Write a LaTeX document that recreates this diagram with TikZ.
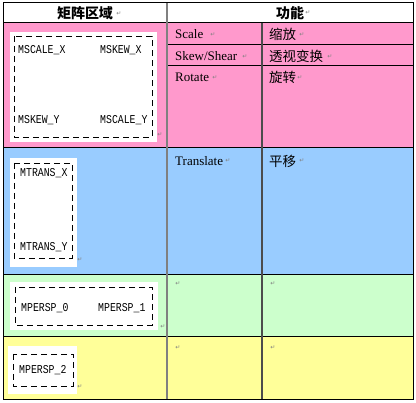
\documentclass[tikz,border=0pt]{standalone}
\usepackage{fontspec}
\setmainfont{Liberation Serif}
\newfontfamily\cjk{Noto Sans CJK SC}
\newfontfamily\regmono[FakeStretch=0.82]{Liberation Mono}
\newfontfamily\markfont{DejaVu Sans}
\usepackage{tikz}
\definecolor{rowpink}{HTML}{FF99CC}
\definecolor{rowblue}{HTML}{99CCFF}
\definecolor{rowgreen}{HTML}{CCFFCC}
\definecolor{rowyellow}{HTML}{FFFF99}
\tikzset{
  head/.style={inner sep=0, font=\cjk\bfseries\fontsize{14}{14}\selectfont},
  cell/.style={anchor=west, inner sep=0, font=\fontsize{13}{13}\selectfont},
  cjkcell/.style={anchor=west, inner sep=0, font=\cjk\fontsize{13.5}{13.5}\selectfont},
  reg/.style={anchor=west, inner sep=0, font=\regmono\fontsize{12}{12}\selectfont},
  pmark/.style={inner sep=0, text=gray, font=\markfont\fontsize{6}{6}\selectfont},
  boxline/.style={dash pattern=on 6pt off 4pt, line width=0.8pt},
  rowline/.style={line width=1pt},
  colline/.style={line width=2pt, draw=gray}
}

\begin{document}
\begin{tikzpicture}[x=1pt, y=-1pt]
  \useasboundingbox (0, 0) rectangle (416, 403);
  \fill[white] (0, 0) rectangle (416, 403);

  % row colours
  \fill[rowpink]   (3, 23)  rectangle (413, 148);
  \fill[rowblue]   (3, 148) rectangle (413, 275);
  \fill[rowgreen]  (3, 275) rectangle (413, 337);
  \fill[rowyellow] (3, 337) rectangle (413, 400);

  % text boxes of the matrix
  \fill[white] (10, 32)  rectangle (157, 142);
  \draw[boxline] (14, 36) rectangle (152, 137);
  \fill[white] (10, 158) rectangle (77, 267);
  \draw[boxline] (14, 163) rectangle (72, 258);
  \fill[white] (10, 282) rectangle (158, 330);
  \draw[boxline] (15, 287) rectangle (152, 325);
  \fill[white] (8, 346) rectangle (77, 394);
  \draw[boxline] (13, 354) rectangle (73, 386);

  % grid
  \draw[rowline]
    (3, 23)    -- (413, 23)
    (3, 148)   -- (413, 148)
    (3, 275)   -- (413, 275)
    (3, 337)   -- (413, 337)
    (167, 45)  -- (413, 45)
    (167, 66)  -- (413, 66);
  \draw[colline] (167, 3) -- (167, 400);
  \draw[colline, draw=gray!60!black, line width=1.5pt] (262, 23) -- (262, 400);
  \draw[rowline] (3, 3) rectangle (413, 400);

  \node[head] (area) at (85, 13) {矩阵区域};
  \node[head] (func) at (290, 13) {功能};

  \node[cell] (scale)     at (175, 34)  {Scale};
  \node[cell] (skew)      at (175, 56)  {Skew/Shear};
  \node[cell] (rotate)    at (175, 77)  {Rotate};
  \node[cell] (translate) at (175, 161) {Translate};

  \node[cjkcell] (zoom)   at (269, 34)  {缩放};
  \node[cjkcell] (persp)  at (269, 56)  {透视变换};
  \node[cjkcell] (turn)   at (269, 77)  {旋转};
  \node[cjkcell] (shift)  at (269, 161) {平移};

  \node[reg] (scalex)  at (18, 50)   {MSCALE\_X};
  \node[reg] (skewx)   at (100, 50)  {MSKEW\_X};
  \node[reg] (skewy)   at (18, 120)  {MSKEW\_Y};
  \node[reg] (scaley)  at (100, 120) {MSCALE\_Y};
  \node[reg] (transx)  at (20, 173)  {MTRANS\_X};
  \node[reg] (transy)  at (20, 247)  {MTRANS\_Y};
  \node[reg] (persp0)  at (21, 308)  {MPERSP\_0};
  \node[reg] (persp1)  at (98, 308)  {MPERSP\_1};
  \node[reg] (persp2)  at (19, 370)  {MPERSP\_2};

  \foreach \x/\y [count=\i] in {119/14, 308/13, 213/35, 302/35, 245/57,
      330/57, 215/78, 300/78, 160/135, 228/161, 302/161, 80/260,
      178/284, 273/284, 163/327, 178/348, 273/348, 80/387}
    \node[pmark] (pm\i) at (\x, \y) {↵};
\end{tikzpicture}
\end{document}
